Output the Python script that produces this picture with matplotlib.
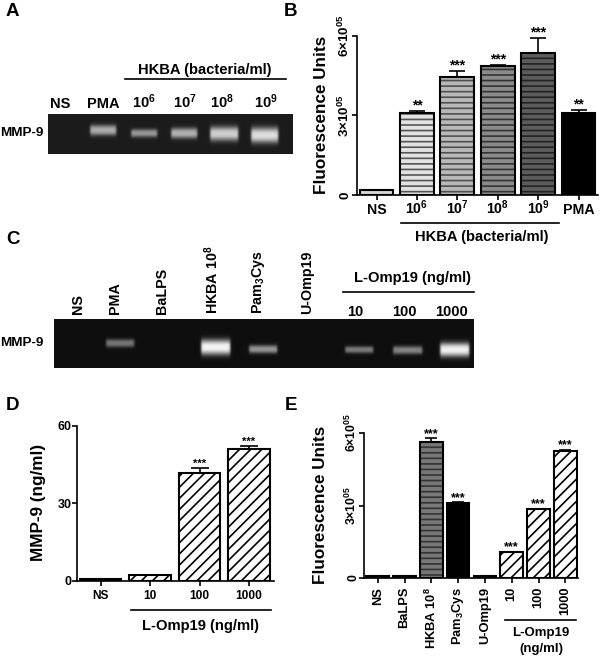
"""Rebuild the MMP-9 gel and bar chart figure (panels A-E)."""

import matplotlib

matplotlib.use("Agg")

import matplotlib.pyplot as plt
import numpy as np

plt.rcParams["font.family"] = ["Liberation Sans", "DejaVu Sans"]
plt.rcParams["font.weight"] = "bold"
plt.rcParams["mathtext.fontset"] = "custom"
plt.rcParams["mathtext.rm"] = "Liberation Sans:bold"
plt.rcParams["mathtext.default"] = "regular"
plt.rcParams["hatch.linewidth"] = 1.2

W, H = 600, 656

# panel A gel
gel_a_lanes = ["NS", "PMA", "10$^{6}$", "10$^{7}$", "10$^{8}$", "10$^{9}$"]
gel_a_intensity = [0.0, 0.56, 0.48, 0.58, 0.70, 0.76]

# panel B
b_labels = ["NS", "10$^{6}$", "10$^{7}$", "10$^{8}$", "10$^{9}$", "PMA"]
b_values = [0.19e5, 3.07e5, 4.44e5, 4.87e5, 5.35e5, 3.09e5]
b_errors = [0.01e5, 0.09e5, 0.24e5, 0.02e5, 0.57e5, 0.12e5]
b_stars = ["", "**", "***", "***", "***", "**"]
b_faces = ["#d6d6d6", "#e2e2e2", "#b8b8b8", "#8a8a8a", "#5c5c5c", "#000000"]
b_stripes = [None, "#555555", "#505050", "#333333", "#222222", None]

# panel C gel
gel_c_lanes = ["NS", "PMA", "BaLPS", "HKBA 10$^{8}$", "Pam$_{3}$Cys", "U-Omp19"]
gel_c_doses = ["10", "100", "1000"]
gel_c_intensity = [0.40, 0.90, 0.52, 0.42, 0.46, 0.88]

# panel D
d_labels = ["NS", "10", "100", "1000"]
d_values = [0.7, 2.1, 41.7, 51.1]
d_errors = [0.0, 0.0, 2.0, 1.2]
d_stars = ["", "", "***", "***"]

# panel E
e_labels = ["NS", "BaLPS", "HKBA 10$^{8}$", "Pam$_{3}$Cys", "U-Omp19", "10", "100", "1000"]
e_values = [0.1e5, 0.07e5, 5.64e5, 3.12e5, 0.07e5, 1.09e5, 2.86e5, 5.27e5]
e_errors = [0.0, 0.0, 0.14e5, 0.02e5, 0.0, 0.0, 0.0, 0.03e5]
e_stars = ["", "", "***", "***", "", "***", "***", "***"]

fluor_ticks = [0, 3e5, 6e5]
fluor_tick_labels = ["0", "3\u00d710$^{05}$", "6\u00d710$^{05}$"]
d_ticks = [0, 30, 60]


def add_axes_px(fig, left, top, right, bottom):
    return fig.add_axes([left / W, 1 - bottom / H, (right - left) / W, (bottom - top) / H])


def draw_gel(ax, box, background, bands, intensity):
    x0, y0, x1, y1 = box
    xs = np.arange(x0, x1, 0.5)
    ys = np.arange(y0, y1, 0.5)
    xx, yy = np.meshgrid(xs, ys)
    img = np.full(xx.shape, background)
    for (bx0, by0, bx1, by1), level in zip(bands, intensity):
        sx = 0.5 * (np.tanh((xx - bx0 - 1) / 1.2) - np.tanh((xx - bx1 + 1) / 1.2))
        yc = (by0 + by1) / 2 + 0.4
        sy = np.exp(-np.abs((yy - yc) / ((by1 - by0) / 2 * 1.15)) ** 2.5)
        img = img + level * sx * sy
    ax.imshow(img, extent=(x0, x1, y1, y0), cmap="gray", vmin=0, vmax=1,
              interpolation="bilinear", aspect="auto", zorder=1)
    ax.set_xlim(0, W)
    ax.set_ylim(H, 0)


def style_axes(ax, lw=1.2, tick_len=3.4):
    ax.patch.set_alpha(0)
    ax.spines["top"].set_visible(False)
    ax.spines["right"].set_visible(False)
    ax.spines["left"].set_linewidth(lw)
    ax.spines["bottom"].set_linewidth(lw)
    ax.tick_params(width=lw, length=tick_len)


def draw_bars(ax, values, errors, stars, faces, stripes, hatches, width, capsize, star_size, star_lift):
    x = np.arange(len(values))
    for i, val in enumerate(values):
        if stripes[i] == "black":
            # black stripes share the edge colour, one patch is enough
            ax.bar(x[i], val, width, color=faces[i], edgecolor="black", hatch=hatches[i],
                   linewidth=1.5, zorder=3)
        else:
            if hatches[i]:
                ax.bar(x[i], val, width, color=faces[i], edgecolor=stripes[i], hatch=hatches[i],
                       linewidth=0, zorder=2)
            else:
                ax.bar(x[i], val, width, color=faces[i], linewidth=0, zorder=2)
            ax.bar(x[i], val, width, fill=False, edgecolor="black", linewidth=1.5, zorder=3)
        if errors[i] > 0:
            ax.errorbar(x[i], val, yerr=[[0], [errors[i]]], color="black", elinewidth=1.2,
                        capsize=capsize, capthick=1.2, zorder=1.5)
        if stars[i]:
            ax.annotate(stars[i], (x[i], val + errors[i]), xytext=(0, star_lift),
                        textcoords="offset points", ha="center", va="baseline",
                        fontsize=star_size, annotation_clip=False)


def main():
    fig = plt.figure(figsize=(W / 100, H / 100), dpi=100)
    page = fig.add_axes([0, 0, 1, 1])
    page.axis("off")

    # gels
    draw_gel(page, (48, 114, 293, 154), 0.11,
             [(89, 125, 117, 134), (130, 129, 158, 136), (170, 128, 198, 137),
              (209, 127, 239, 139), (250, 128, 279, 141)],
             gel_a_intensity[1:])
    draw_gel(page, (54, 319, 474, 368), 0.06,
             [(105, 339, 135, 346), (200, 340, 231, 353), (248, 345, 278, 352),
              (344, 346, 374, 352), (392, 346, 423, 353), (439, 343, 470, 355)],
             gel_c_intensity)

    # panel letters
    for letter, x, y in [("A", 6, 12), ("B", 284, 12), ("C", 6, 239), ("D", 6, 406), ("E", 285, 406)]:
        page.text(x, y, letter, fontsize=13.5, ha="left", va="center")

    # panel A text
    page.text(205, 70, "HKBA (bacteria/ml)", fontsize=10.6, ha="center", va="center")
    page.plot([125, 286], [79.3, 79.3], color="black", lw=1.2)
    for label, x in zip(gel_a_lanes, [60, 103, 144, 185, 222, 266]):
        page.text(x, 108, label, fontsize=10.5, ha="center", va="baseline")
    page.text(0, 132.5, "MMP-9", fontsize=9.7, ha="left", va="center")

    # panel C text
    for label, x in zip(gel_c_lanes, [78, 115, 162, 211.5, 258.5, 307]):
        page.text(x, 314.5, label, fontsize=10.3, rotation=90, ha="center", va="bottom")
    page.text(412, 278, "L-Omp19 (ng/ml)", fontsize=10.6, ha="center", va="center")
    page.plot([343, 474], [292, 292], color="black", lw=1.2)
    for label, x in zip(gel_c_doses, [355, 404, 452]):
        page.text(x, 312, label, fontsize=10.5, ha="center", va="center")
    page.text(0, 342.5, "MMP-9", fontsize=9.7, ha="left", va="center")

    # panel B
    ax = add_axes_px(fig, 357, 35.7, 598, 195)
    style_axes(ax)
    draw_bars(ax, b_values, b_errors, b_stars, b_faces, b_stripes,
              ["", "---", "---", "---", "---", ""], 0.84, 6, 10, 1.0)
    ax.set_xlim((357 - 376.5) / 40.4, (598 - 376.5) / 40.4)
    ax.set_ylim(0, 6e5)
    ax.set_xticks(range(len(b_labels)), b_labels, fontsize=10.2, va="baseline")
    ax.set_yticks(fluor_ticks, fluor_tick_labels, rotation=90, va="center", fontsize=9.6)
    ax.tick_params(axis="x", pad=10.3)
    ax.tick_params(axis="y", pad=0.5)
    page.text(322, 115, "Fluorescence Units", fontsize=12.3, rotation=90, ha="center", va="center")
    page.plot([401, 559], [223, 223], color="black", lw=1.2)
    page.text(482, 237, "HKBA (bacteria/ml)", fontsize=10.6, ha="center", va="center")

    # panel D
    ax = add_axes_px(fig, 77, 425.7, 274, 580.7)
    style_axes(ax)
    draw_bars(ax, d_values, d_errors, d_stars, ["white"] * 4, ["black"] * 4, ["///"] * 4, 0.84, 6.5, 8, 0.5)
    ax.set_xlim((77 - 100.5) / 49.5, (274 - 100.5) / 49.5)
    ax.set_ylim(0, 60)
    ax.set_xticks(range(len(d_labels)), d_labels, fontsize=8.6)
    ax.set_yticks(d_ticks, [str(t) for t in d_ticks], fontsize=9)
    ax.tick_params(axis="x", pad=3)
    ax.tick_params(axis="y", pad=0.5)
    page.text(39, 502, "MMP-9 (ng/ml)", fontsize=12.3, rotation=90, ha="center", va="center")
    page.plot([131, 271], [610, 610], color="black", lw=1.2)
    page.text(201, 626, "L-Omp19 (ng/ml)", fontsize=10.6, ha="center", va="center")

    # panel E
    ax = add_axes_px(fig, 364, 433, 578, 578)
    style_axes(ax)
    e_faces = ["#d6d6d6", "#d6d6d6", "#777777", "#000000", "#d6d6d6", "white", "white", "white"]
    e_stripes = [None, None, "#333333", None, None, "black", "black", "black"]
    e_hatches = ["", "", "---", "", "", "///", "///", "///"]
    draw_bars(ax, e_values, e_errors, e_stars, e_faces, e_stripes, e_hatches, 0.84, 4, 9, 1.0)
    ax.set_xlim((364 - 377.7) / 26.8, (578 - 377.7) / 26.8)
    ax.set_ylim(0, 6e5)
    ax.set_xticks(range(len(e_labels)), e_labels, rotation=90, fontsize=9.3)
    ax.set_yticks(fluor_ticks, fluor_tick_labels, rotation=90, va="center", fontsize=8.8)
    ax.tick_params(axis="x", pad=3)
    ax.tick_params(axis="y", pad=0)
    page.text(320.5, 505, "Fluorescence Units", fontsize=12.3, rotation=90, ha="center", va="center")
    page.plot([505, 576], [620, 620], color="black", lw=1.2)
    page.text(541, 633, "L-Omp19", fontsize=9.5, ha="center", va="center")
    page.text(541, 649, "(ng/ml)", fontsize=9.5, ha="center", va="center")

    page.set_xlim(0, W)
    page.set_ylim(H, 0)
    fig.savefig("out.png", dpi=100)


if __name__ == "__main__":
    main()
